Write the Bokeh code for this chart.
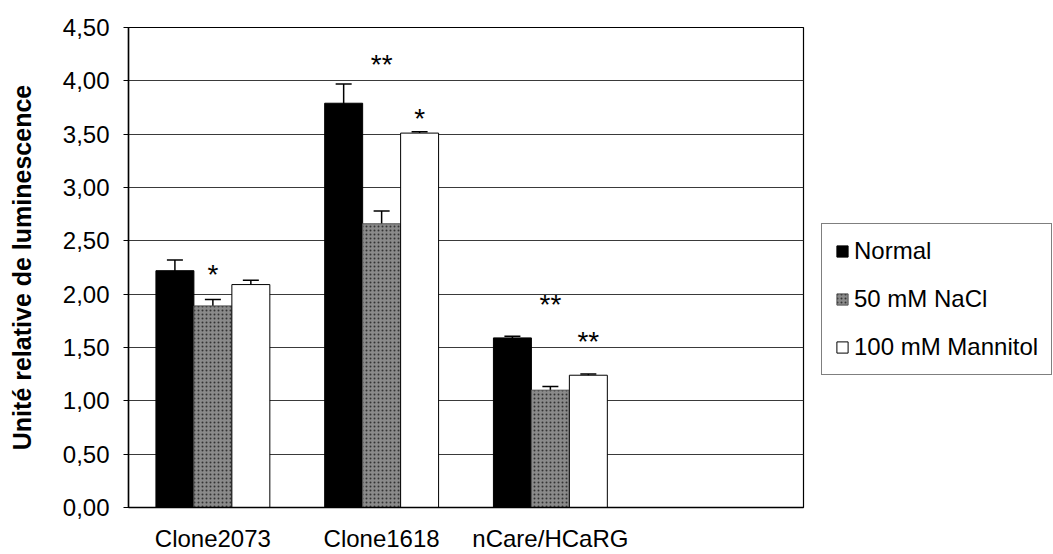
from bokeh.plotting import figure
from bokeh.layouts import row
from bokeh.models import (Range1d, FixedTicker, ColumnDataSource, Whisker, TeeHead,
                          Legend, LegendItem)
from bokeh.core.properties import value
from bokeh.embed import file_html
from bokeh.resources import INLINE

# ---- data ----
categories = ["Clone2073", "Clone1618", "nCare/HCaRG"]
series = ["Normal", "50 mM NaCl", "100 mM Mannitol"]
normal = [2.22, 3.79, 1.59]
nacl = [1.89, 2.66, 1.10]
mannitol = [2.09, 3.51, 1.24]
normal_err = [0.10, 0.18, 0.015]
nacl_err = [0.06, 0.12, 0.035]
mannitol_err = [0.04, 0.012, 0.012]
y_ticks = [0.0, 0.5, 1.0, 1.5, 2.0, 2.5, 3.0, 3.5, 4.0, 4.5]
y_tick_labels = ["0,00", "0,50", "1,00", "1,50", "2,00", "2,50", "3,00", "3,50", "4,00", "4,50"]
star_group = [0, 1, 1, 2, 2]
star_series = [1, 1, 2, 1, 2]
star_y = [2.25, 4.22, 3.71, 1.97, 1.62]
star_text = ["*", "**", "*", "**", "**"]

FONT = "Liberation Sans"
n_slots = 4  # the category axis has one empty slot on the right
bar_w = 0.225
offsets = [-bar_w, 0.0, bar_w]

p = figure(width=810, height=554, x_range=Range1d(0, n_slots), y_range=Range1d(0, 4.5),
           output_backend="svg", toolbar_location=None,
           min_border_left=128, min_border_right=7, min_border_top=27, min_border_bottom=45)
p.background_fill_color = "white"
p.border_fill_color = "white"
p.outline_line_color = "black"
p.outline_line_width = 1.2

# axes
p.yaxis.ticker = FixedTicker(ticks=y_ticks)
p.yaxis.major_label_overrides = dict(zip(y_ticks, y_tick_labels))
p.yaxis.minor_tick_line_color = None
p.yaxis.major_tick_out = 5
p.yaxis.major_tick_in = 0
p.yaxis.major_label_standoff = 14
p.yaxis.axis_line_color = "black"
p.yaxis.axis_line_width = 1.5
p.yaxis.major_label_text_font = FONT
p.yaxis.major_label_text_font_size = "24px"
p.yaxis.major_label_text_color = "black"
p.yaxis.axis_label = "Unité relative de luminescence"
p.yaxis.axis_label_text_font = FONT
p.yaxis.axis_label_text_font_size = "25px"
p.yaxis.axis_label_text_font_style = "bold"
p.yaxis.axis_label_text_color = "black"
p.yaxis.axis_label_standoff = 24

x_ticks = [i + 0.5 for i in range(len(categories))]
p.xaxis.ticker = FixedTicker(ticks=x_ticks)
p.xaxis.major_label_overrides = dict(zip(x_ticks, categories))
p.xaxis.major_tick_line_color = None
p.xaxis.minor_tick_line_color = None
p.xaxis.major_tick_out = 0
p.xaxis.major_tick_in = 0
p.xaxis.major_label_standoff = 17
p.xaxis.major_label_text_line_height = 0.9
p.xaxis.axis_line_color = "black"
p.xaxis.axis_line_width = 1.5
p.xaxis.major_label_text_font = FONT
p.xaxis.major_label_text_font_size = "24px"
p.xaxis.major_label_text_color = "black"

p.xgrid.grid_line_color = None
p.ygrid.ticker = FixedTicker(ticks=y_ticks)
p.ygrid.grid_line_color = "#3a3a3a"
p.ygrid.grid_line_width = 1

# bars
values = [normal, nacl, mannitol]
errors = [normal_err, nacl_err, mannitol_err]
styles = [
    dict(fill_color="black", line_color="black"),
    dict(fill_color="#8a8a8a", line_color="#555555", hatch_pattern="dot",
         hatch_color="#333333", hatch_scale=4, hatch_weight=1),
    dict(fill_color="white", line_color="black", line_width=1),
]
for k, (vals, errs, st) in enumerate(zip(values, errors, styles)):
    xs = [i + 0.5 + offsets[k] for i in range(len(categories))]
    src = ColumnDataSource(dict(
        x=xs, top=vals,
        upper=[v + e for v, e in zip(vals, errs)],
        lower=[v - e for v, e in zip(vals, errs)],
    ))
    p.vbar(x="x", top="top", bottom=0, width=bar_w, source=src, **st)
    w = Whisker(base="x", upper="upper", lower="lower", source=src,
                line_color="black", line_width=1.5,
                upper_head=TeeHead(size=16, line_color="black", line_width=1.5),
                lower_head=TeeHead(size=16, line_color="black", line_width=1.5))
    p.add_layout(w)

# significance stars
star_x = [g + 0.5 + offsets[s] for g, s in zip(star_group, star_series)]
p.text(x=star_x, y=star_y, text=star_text, text_align="center", text_baseline="middle",
       text_font=value(FONT), text_font_size="28px", text_color="black", y_offset=7)

# legend panel (separate figure to the right of the chart)
q = figure(width=243, height=554, x_range=Range1d(0, 1), y_range=Range1d(0, 1),
           output_backend="svg", toolbar_location=None, min_border=0)
q.axis.visible = False
q.grid.grid_line_color = None
q.outline_line_color = None
q.background_fill_color = "white"
q.border_fill_color = "white"
nan = float("nan")
dummies = [q.vbar(x=[nan], top=[nan], width=0.1, **st) for st in styles]
legend = Legend(items=[LegendItem(label=s, renderers=[r]) for s, r in zip(series, dummies)],
                location=(11, 132))
legend.border_line_color = "black"
legend.border_line_width = 1
legend.background_fill_color = "white"
legend.label_text_font = FONT
legend.label_text_font_size = "24px"
legend.label_text_color = "black"
legend.glyph_width = 14
legend.glyph_height = 14
legend.label_standoff = 5
legend.label_height = 20
legend.spacing = 20
legend.padding = 13
legend.margin = 0
q.add_layout(legend, "center")

layout = row(p, q)
open("out.html", "w").write(file_html(layout, INLINE))
